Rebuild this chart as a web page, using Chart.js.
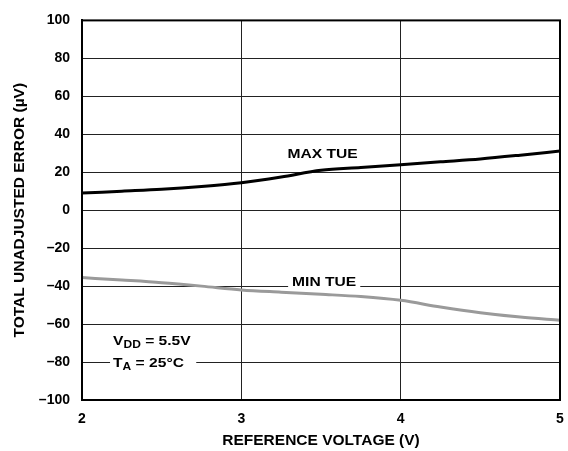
<!DOCTYPE html>
<html>
<head>
<meta charset="utf-8">
<script src="https://cdn.jsdelivr.net/npm/chart.js@4.4.0/dist/chart.umd.min.js"></script>
<style>
  html, body { margin: 0; padding: 0; background: #fff; }
  #wrap { width: 568px; height: 451px; }
</style>
</head>
<body>
<div id="wrap"><canvas id="tueChart" width="568" height="451"></canvas></div>
<script>
// valores (µV)
const refVoltage = [2, 2.25, 2.5, 2.75, 3, 3.25, 3.5, 3.75, 4, 4.25, 4.5, 4.75, 5];
const maxTue = [9, 10, 11, 12.5, 14.5, 17.5, 21, 22.5, 24, 25.5, 27, 29, 31.2];
const minTue = [-35.5, -36.8, -38.2, -40, -42, -43.2, -44.3, -45.5, -47.5, -51, -54, -56.3, -58];
const yTicks = [-100, -80, -60, -40, -20, 0, 20, 40, 60, 80, 100];
const xTicks = [2, 3, 4, 5];

const FONT = 'Liberation Sans, Arial, sans-serif';
const STRETCH = 1.2; // a fonte do original é mais larga que a Arial

// escreve texto esticado na horizontal, devolve a largura final
function wideText(ctx, text, x, y, size) {
  ctx.save();
  ctx.font = 'bold ' + size + 'px ' + FONT;
  ctx.translate(x, y);
  ctx.scale(STRETCH, 1);
  ctx.fillText(text, 0, 0);
  const w = ctx.measureText(text).width * STRETCH;
  ctx.restore();
  return w;
}

// rótulos dentro da área do gráfico
const labelsPlugin = {
  id: 'curveLabels',
  afterDatasetsDraw(chart) {
    const { ctx, scales: { x, y } } = chart;
    ctx.save();
    ctx.textBaseline = 'middle';
    ctx.textAlign = 'center';
    ctx.fillStyle = '#000';
    wideText(ctx, 'MAX TUE', x.getPixelForValue(3.51), y.getPixelForValue(29.3), 13);

    // MIN TUE com fundo branco cortando a grade
    const mx = x.getPixelForValue(3.52), my = y.getPixelForValue(-38.3);
    ctx.font = 'bold 13px ' + FONT;
    const w = ctx.measureText('MIN TUE').width * STRETCH;
    ctx.fillStyle = '#fff';
    ctx.fillRect(mx - w / 2 - 4, y.getPixelForValue(-40) - 2, w + 8, 4);
    ctx.fillStyle = '#000';
    wideText(ctx, 'MIN TUE', mx, my, 13);

    // caixa de condições
    const bx = x.getPixelForValue(2.176), bx2 = x.getPixelForValue(2.717);
    ctx.fillStyle = '#fff';
    ctx.fillRect(bx, y.getPixelForValue(-64), bx2 - bx, y.getPixelForValue(-85) - y.getPixelForValue(-64));
    ctx.fillStyle = '#000';
    ctx.textAlign = 'left';
    const tx = x.getPixelForValue(2.195);
    const l1 = y.getPixelForValue(-69), l2 = y.getPixelForValue(-80.5);
    const parts1 = [['V', 13, 0], ['DD', 10, 4], [' = 5.5V', 13, 0]];
    const parts2 = [['T', 13, 0], ['A', 10, 4], [' = 25°C', 13, 0]];
    [[parts1, l1], [parts2, l2]].forEach(([parts, ly]) => {
      let cx = tx;
      parts.forEach(([t, size, dy]) => {
        cx += wideText(ctx, t, cx, ly + dy, size);
      });
    });
    ctx.restore();
  }
};

new Chart(document.getElementById('tueChart').getContext('2d'), {
  type: 'line',
  data: {
    datasets: [
      {
        label: 'MAX TUE',
        data: refVoltage.map((v, i) => ({ x: v, y: maxTue[i] })),
        borderColor: '#000',
        borderWidth: 3,
        pointRadius: 0,
        tension: 0.4,
        cubicInterpolationMode: 'monotone'
      },
      {
        label: 'MIN TUE',
        data: refVoltage.map((v, i) => ({ x: v, y: minTue[i] })),
        borderColor: '#9a9a9a',
        borderWidth: 3,
        pointRadius: 0,
        tension: 0.4,
        cubicInterpolationMode: 'monotone'
      }
    ]
  },
  options: {
    responsive: false,
    animation: false,
    layout: { padding: { left: 0, top: 18, right: 8, bottom: 0 } },
    plugins: {
      legend: { display: false },
      tooltip: { enabled: false }
    },
    scales: {
      x: {
        type: 'linear',
        min: 2,
        max: 5,
        afterBuildTicks: axis => { axis.ticks = xTicks.map(v => ({ value: v })); },
        afterFit: axis => {
          axis.height = 51;
          axis.paddingLeft = 0;
          axis.paddingRight = 0;
        },
        grid: { color: '#222', lineWidth: 1, drawTicks: false },
        border: { color: '#000', width: 2 },
        ticks: {
          color: '#000',
          padding: 11,
          font: { family: FONT, size: 14, weight: 'bold' }
        },
        title: {
          display: true,
          text: 'REFERENCE VOLTAGE (V)',
          color: '#000',
          padding: { top: 2, bottom: 1 },
          font: { family: FONT, size: 15.5, weight: 'bold' }
        }
      },
      y: {
        min: -100,
        max: 100,
        afterBuildTicks: axis => { axis.ticks = yTicks.map(v => ({ value: v })); },
        afterFit: axis => { axis.width = 82; },
        grid: { color: '#222', lineWidth: 1, drawTicks: false },
        border: { color: '#000', width: 2 },
        ticks: {
          color: '#000',
          padding: 12,
          font: { family: FONT, size: 14, weight: 'bold' },
          callback: v => (v < 0 ? '\u2013' + Math.abs(v) : String(v))
        },
        title: {
          display: true,
          text: 'TOTAL UNADJUSTED ERROR (\u00B5V)',
          color: '#000',
          padding: { top: 10, bottom: 0 },
          font: { family: FONT, size: 15.5, weight: 'bold' }
        }
      }
    }
  },
  plugins: [labelsPlugin, {
    id: 'frame',
    afterDraw(chart) {
      const { ctx, chartArea: a } = chart;
      ctx.save();
      ctx.strokeStyle = '#000';
      ctx.lineWidth = 2;
      ctx.strokeRect(a.left, a.top, a.right - a.left, a.bottom - a.top);
      ctx.restore();
    }
  }]
});
</script>
</body>
</html>
